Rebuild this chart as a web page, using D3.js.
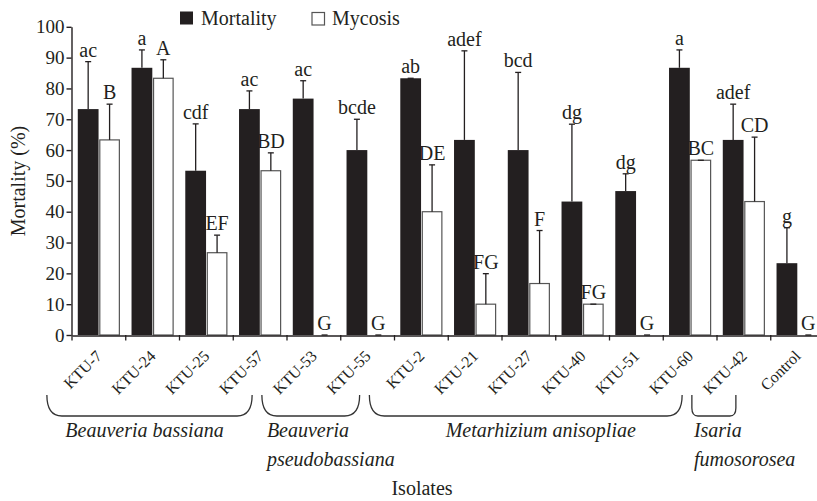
<!DOCTYPE html>
<html>
<head>
<meta charset="utf-8">
<script src="https://cdn.jsdelivr.net/npm/d3@7"></script>
<style>
    body { margin: 0; background: #fff; }
    text { font-family: "Liberation Serif", "Times New Roman", serif; fill: #231f20; }
</style>
</head>
<body>
<script>
// isolates on the x axis, and the two measured series (percent)
var isolates = ["KTU-7", "KTU-24", "KTU-25", "KTU-57", "KTU-53", "KTU-55",
                "KTU-2", "KTU-21", "KTU-27", "KTU-40", "KTU-51", "KTU-60",
                "KTU-42", "Control"];
var mortality    = [73.3, 86.7, 53.3, 73.3, 76.7, 60, 83.3, 63.3, 60, 43.3, 46.7, 86.7, 63.3, 23.3];
var mortalityErr = [15.4, 5.8, 15.2, 5.9, 5.8, 10, 0, 28.9, 25.2, 25.1, 5.6, 5.8, 11.6, 11.5];
var mycosis      = [63.3, 83.3, 26.7, 53.3, 0, 0, 40, 10, 16.7, 10, 0, 56.7, 43.3, 0];
var mycosisErr   = [11.6, 6, 5.7, 5.8, 0, 0, 15.2, 9.9, 17.2, 0, 0, 0, 20.9, 0];
var mortalityLetters = ["ac", "a", "cdf", "ac", "ac", "bcde", "ab", "adef",
                        "bcd", "dg", "dg", "a", "adef", "g"];
var mycosisLetters = ["B", "A", "EF", "BD", "G", "G", "DE", "FG", "F", "FG",
                      "G", "BC", "CD", "G"];
var yTicks = [0, 10, 20, 30, 40, 50, 60, 70, 80, 90, 100];

// species groups under the isolate labels
var groupNames = [["Beauveria bassiana"], ["Beauveria", "pseudobassiana"],
                  ["Metarhizium anisopliae"], ["Isaria", "fumosorosea"]];
var groupFirst = [0, 4, 6, 12],
    groupLast = [3, 5, 11, 12];

var width = 817, height = 501;
var ink = "#231f20";

var svg = d3.select("body").append("svg")
    .attr("width", width)
    .attr("height", height);

var x = d3.scaleBand().domain(isolates).range([72, 824.5]);
var sub = d3.scaleBand().domain(["Mortality", "Mycosis"])
    .range([0, x.bandwidth()])
    .paddingInner(0.03)
    .paddingOuter(0.27);
var y = d3.scaleLinear().domain([0, 100]).range([335, 26.8]);

// bars
var rows = isolates.map(function(d, i) {
    return [
        {iso: d, key: "Mortality", v: mortality[i], e: mortalityErr[i], lab: mortalityLetters[i]},
        {iso: d, key: "Mycosis", v: mycosis[i], e: mycosisErr[i], lab: mycosisLetters[i]}
    ];
}).flat();

function cx(d) { return x(d.iso) + sub(d.key) + sub.bandwidth() / 2; }

svg.append("g").selectAll("rect")
    .data(rows)
    .join("rect")
    .attr("x", function(d) { return x(d.iso) + sub(d.key) + (d.key == "Mycosis" ? 0.6 : 0); })
    .attr("y", function(d) { return y(d.v); })
    .attr("width", function(d) { return sub.bandwidth() - (d.key == "Mycosis" ? 1.2 : 0); })
    .attr("height", function(d) { return y(0) - y(d.v); })
    .style("fill", function(d) { return d.key == "Mortality" ? ink : "#fff"; })
    .style("stroke", function(d) { return d.key == "Mortality" ? "none" : "#555"; })
    .style("stroke-width", 1.2);

// error bars (upper half only)
var err = svg.append("g")
    .style("stroke", ink)
    .style("stroke-width", 1.3);

err.selectAll("line.stem")
    .data(rows)
    .join("line")
    .attr("class", "stem")
    .attr("x1", cx).attr("x2", cx)
    .attr("y1", function(d) { return y(d.v); })
    .attr("y2", function(d) { return y(d.v + d.e); });

err.selectAll("line.cap")
    .data(rows)
    .join("line")
    .attr("class", "cap")
    .attr("x1", function(d) { return cx(d) - 3; })
    .attr("x2", function(d) { return cx(d) + 3; })
    .attr("y1", function(d) { return y(d.v + d.e); })
    .attr("y2", function(d) { return y(d.v + d.e); });

// significance letters
svg.append("g").selectAll("text")
    .data(rows)
    .join("text")
    .attr("x", cx)
    .attr("y", function(d) { return y(d.v + d.e) - 5; })
    .attr("text-anchor", "middle")
    .style("font-size", "20px")
    .text(function(d) { return d.lab; });

// y axis
var yAxis = svg.append("g")
    .attr("transform", "translate(71.5,0)")
    .call(d3.axisLeft(y).tickValues(yTicks).tickSize(5).tickSizeOuter(0).tickPadding(2));
yAxis.selectAll("text").style("font-size", "19px").style("fill", ink);
yAxis.selectAll("line, path").style("stroke", ink).style("stroke-width", 1.4);

// x axis, ticks between the isolates
var xAxis = svg.append("g")
    .attr("transform", "translate(0,335.5)")
    .call(d3.axisBottom(x).tickSize(0).tickSizeOuter(0).tickFormat(""));
xAxis.select("path").style("stroke", ink).style("stroke-width", 1.4);

svg.append("g").selectAll("line")
    .data(isolates)
    .join("line")
    .attr("x1", function(d) { return x(d); })
    .attr("x2", function(d) { return x(d); })
    .attr("y1", 335)
    .attr("y2", 340.5)
    .style("stroke", ink)
    .style("stroke-width", 1.3);

svg.append("g").selectAll("text")
    .data(isolates)
    .join("text")
    .attr("transform", function(d) {
        return "translate(" + (x(d) + x.bandwidth() / 2 + 4) + ",357) rotate(-45)";
    })
    .attr("text-anchor", "end")
    .style("font-size", "16px")
    .text(function(d) { return d; });

// braces with species names
var braces = svg.append("g");
groupNames.forEach(function(names, g) {
    var x1 = x(isolates[groupFirst[g]]) + x.bandwidth() / 2 - 52,
        x2 = x(isolates[groupLast[g]]) + x.bandwidth() / 2 - 8,
        yt = 395, yb = 416,
        rx = (x2 - x1) > 80 ? 15 : 6,
        ry = (x2 - x1) > 80 ? 21 : 8;
    braces.append("path")
        .attr("d", "M" + x1 + "," + yt + "L" + x1 + "," + (yb - ry) +
            "Q" + x1 + "," + yb + " " + (x1 + rx) + "," + yb +
            "L" + (x2 - rx) + "," + yb +
            "Q" + x2 + "," + yb + " " + x2 + "," + (yb - ry) +
            "L" + x2 + "," + yt)
        .style("fill", "none")
        .style("stroke", "#333")
        .style("stroke-width", 1.3);

    var t = braces.append("text")
        .style("font-size", "20px")
        .style("font-style", "italic");
    if (names.length == 1) {
        t.attr("x", (x1 + x2) / 2 + (g == 0 ? -5 : 15))
            .attr("y", 437)
            .attr("text-anchor", "middle")
            .text(names[0]);
    } else {
        names.forEach(function(n, k) {
            t.append("tspan")
                .attr("x", x1 + (g == 1 ? 5 : 2))
                .attr("y", 437 + k * 29)
                .text(n);
        });
    }
});

// axis titles
svg.append("text")
    .attr("x", 422)
    .attr("y", 495)
    .attr("text-anchor", "middle")
    .style("font-size", "20px")
    .text("Isolates");

svg.append("text")
    .attr("transform", "translate(25,181) rotate(-90)")
    .attr("text-anchor", "middle")
    .style("font-size", "20px")
    .text("Mortality (%)");

// legend
var legend = svg.append("g");
legend.append("rect")
    .attr("x", 180).attr("y", 11.5)
    .attr("width", 13).attr("height", 13)
    .style("fill", ink);
legend.append("text")
    .attr("x", 201).attr("y", 25)
    .style("font-size", "20px")
    .text("Mortality");
legend.append("rect")
    .attr("x", 312).attr("y", 12.5)
    .attr("width", 12.5).attr("height", 12.5)
    .style("fill", "#fff")
    .style("stroke", "#555")
    .style("stroke-width", 1.2);
legend.append("text")
    .attr("x", 332).attr("y", 25)
    .style("font-size", "20px")
    .text("Mycosis");
</script>
</body>
</html>
